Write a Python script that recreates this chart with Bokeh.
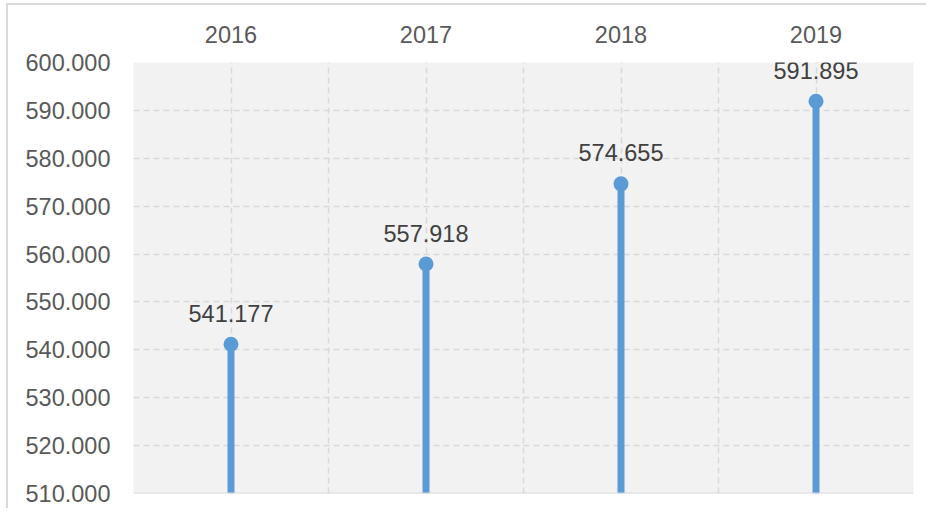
from bokeh.plotting import figure
from bokeh.models import ColumnDataSource, FixedTicker, LinearAxis, Range1d, Span, PrintfTickFormatter
from bokeh.core.properties import value
from bokeh.embed import file_html
from bokeh.resources import INLINE

years = ["2016", "2017", "2018", "2019"]
values = [541.177, 557.918, 574.655, 591.895]
y_ticks = [510, 520, 530, 540, 550, 560, 570, 580, 590, 600]

FONT = "Liberation Sans"
BLUE = "#5b9bd5"
GRID = "#d9d9d9"

xs = [i + 0.5 for i in range(len(years))]
src = ColumnDataSource(dict(
    x=xs, y=values, base=[y_ticks[0]] * len(values),
    label=[f"{v:.3f}" for v in values],
))

p = figure(width=920, height=505, output_backend="svg", toolbar_location=None,
           x_range=Range1d(0, len(years)), y_range=Range1d(y_ticks[0], y_ticks[-1]),
           x_axis_location=None, min_border_left=125, min_border_top=57,
           min_border_right=15, min_border_bottom=17)
p.background_fill_color = "#f2f2f2"
p.border_fill_color = "white"
p.outline_line_color = None
p.styles = {"border-left": "2px solid #d9d9d9", "border-top": "2px solid #d9d9d9",
            "margin-left": "6px", "margin-top": "3px"}

# top axis with years
top = LinearAxis(ticker=FixedTicker(ticks=xs),
                 major_label_overrides={x: y for x, y in zip(xs, years)})
top.axis_line_color = None
top.major_tick_line_color = None
top.minor_tick_line_color = None
top.major_label_text_font = FONT
top.major_label_text_font_size = "23.5px"
top.major_label_text_color = "#595959"
top.major_label_standoff = 14
p.add_layout(top, "above")

ya = p.yaxis[0]
ya.ticker = FixedTicker(ticks=y_ticks)
ya.formatter = PrintfTickFormatter(format="%.3f")
ya.axis_line_color = None
ya.major_tick_line_color = None
ya.minor_tick_line_color = None
ya.major_label_text_font = FONT
ya.major_label_text_font_size = "23.5px"
ya.major_label_text_color = "#595959"
ya.major_label_standoff = 17

p.xgrid.ticker = FixedTicker(ticks=[i * 0.5 for i in range(2 * len(years) + 1)])
p.ygrid.ticker = FixedTicker(ticks=y_ticks)
for g in (p.xgrid[0], p.ygrid[0]):
    g.grid_line_color = GRID
    g.grid_line_dash = "6 4"
    g.grid_line_width = 1.5

p.add_layout(Span(location=y_ticks[0], dimension="width", line_color=GRID, line_width=2))

p.segment(x0="x", y0="base", x1="x", y1="y", source=src, line_color=BLUE,
          line_width=7, line_cap="butt")
p.scatter(x="x", y="y", source=src, size=15, fill_color=BLUE, line_color=None)
p.text(x="x", y="y", text="label", source=src, text_align="center",
       text_baseline="alphabetic", y_offset=-31, text_font=value(FONT),
       text_font_size="23.5px", text_color="#404040")

open("out.html", "w").write(file_html(p, INLINE))
